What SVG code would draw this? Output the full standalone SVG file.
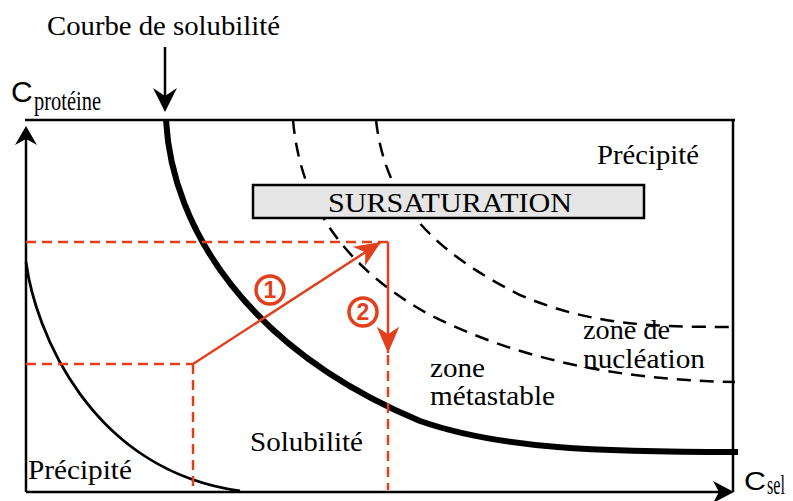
<svg xmlns="http://www.w3.org/2000/svg" width="793" height="501" viewBox="0 0 793 501">
<defs>
<style>
.t{font-family:"Liberation Serif","Times New Roman",serif;font-size:28px;fill:#000}
.sans{font-family:"Liberation Sans",Arial,sans-serif;fill:#000}
.ax{stroke:#000;stroke-width:2.5;fill:none}
.dash{stroke:#000;stroke-width:2.5;fill:none;stroke-dasharray:14 9}
.rd{stroke:#e2401c;stroke-width:2.5;fill:none;stroke-dasharray:10 6}
.rs{stroke:#e2401c;stroke-width:2.5;fill:none}
.num{font-family:"Liberation Sans",Arial,sans-serif;font-weight:bold;font-size:23px;fill:#e2401c}
</style>
<marker id="ra" markerUnits="userSpaceOnUse" markerWidth="30" markerHeight="30" viewBox="-22 -11 24 22" refX="0" refY="0" orient="auto">
<path d="M0,0 L-21,-9 L-15,0 L-21,9 Z" fill="#e2401c"/>
</marker>
</defs>
<rect width="793" height="501" fill="#fff"/>

<g id="curves">
<path class="dash" d="M293,120 C300,200 340,265 430,315 C520,360 620,380 735,382"/>
<path class="dash" d="M376,120 C385,200 430,250 520,295 C590,325 650,327 735,327"/>
<path d="M26,262 C35,330 90,470 240,491" stroke="#000" stroke-width="2.8" fill="none"/>
<path d="M166,120 C172,230 250,350 420,421 C500,449 600,452 738,452" stroke="#000" stroke-width="6" fill="none"/>
</g>

<g id="frame">
<path class="ax" d="M25,120 H735 M733,120 V492"/>
<line class="ax" x1="26" y1="492" x2="26" y2="135"/>
<path d="M26,126 L15,145 L26,139 L37,145 Z" fill="#000"/>
<line class="ax" x1="26" y1="492" x2="722" y2="492"/>
<path d="M734,492 L713,481 L719,492 L713,503 Z" fill="#000"/>
</g>

<g id="sursaturation">
<rect x="253" y="185" width="391" height="33" fill="#e6e6e6" stroke="#000" stroke-width="2.5"/>
<text class="t" x="328" y="212" textLength="244" lengthAdjust="spacingAndGlyphs">SURSATURATION</text>
</g>

<g id="connectors">
<line x1="165" y1="47" x2="165" y2="98" stroke="#000" stroke-width="2.5"/>
<path d="M165,112 L153,88 L165,96 L177,88 Z" fill="#000"/>
<line class="rd" x1="26" y1="242" x2="388" y2="242"/>
<line class="rd" x1="26" y1="364" x2="193" y2="364"/>
<line class="rd" x1="193" y1="364" x2="193" y2="490"/>
<line class="rd" x1="388" y1="355" x2="388" y2="490"/>
<line class="rs" x1="193" y1="364" x2="381" y2="242" marker-end="url(#ra)"/>
<line class="rs" x1="388" y1="242" x2="388" y2="353" marker-end="url(#ra)"/>
</g>

<g id="step1">
<circle cx="270" cy="290" r="14" fill="#fff" stroke="#e2401c" stroke-width="3.5"/>
<text class="num" x="270" y="298" text-anchor="middle">1</text>
</g>
<g id="step2">
<circle cx="363" cy="312" r="14" fill="#fff" stroke="#e2401c" stroke-width="3.5"/>
<text class="num" x="363" y="320" text-anchor="middle">2</text>
</g>

<g id="labels">
<text class="t" x="47" y="35" textLength="233" lengthAdjust="spacingAndGlyphs">Courbe de solubilité</text>
<text class="sans" x="11" y="102" font-size="30">C</text>
<text class="t" x="34" y="110" font-size="18" textLength="67" lengthAdjust="spacingAndGlyphs">protéine</text>
<text class="t" x="597" y="164" textLength="102" lengthAdjust="spacingAndGlyphs">Précipité</text>
<text class="t" x="583" y="339" font-size="26" textLength="87" lengthAdjust="spacingAndGlyphs">zone de</text>
<text class="t" x="583" y="368" font-size="26" textLength="122" lengthAdjust="spacingAndGlyphs">nucléation</text>
<text class="t" x="430" y="377" font-size="26" textLength="55" lengthAdjust="spacingAndGlyphs">zone</text>
<text class="t" x="430" y="405" font-size="26" textLength="125" lengthAdjust="spacingAndGlyphs">métastable</text>
<text class="t" x="250" y="451" textLength="113" lengthAdjust="spacingAndGlyphs">Solubilité</text>
<text class="t" x="28" y="479" textLength="104" lengthAdjust="spacingAndGlyphs">Précipité</text>
<text class="sans" x="744" y="490" font-size="25" textLength="22" lengthAdjust="spacingAndGlyphs">C</text>
<text class="t" x="767" y="494" font-size="16" textLength="18" lengthAdjust="spacingAndGlyphs">sel</text>
</g>
</svg>
